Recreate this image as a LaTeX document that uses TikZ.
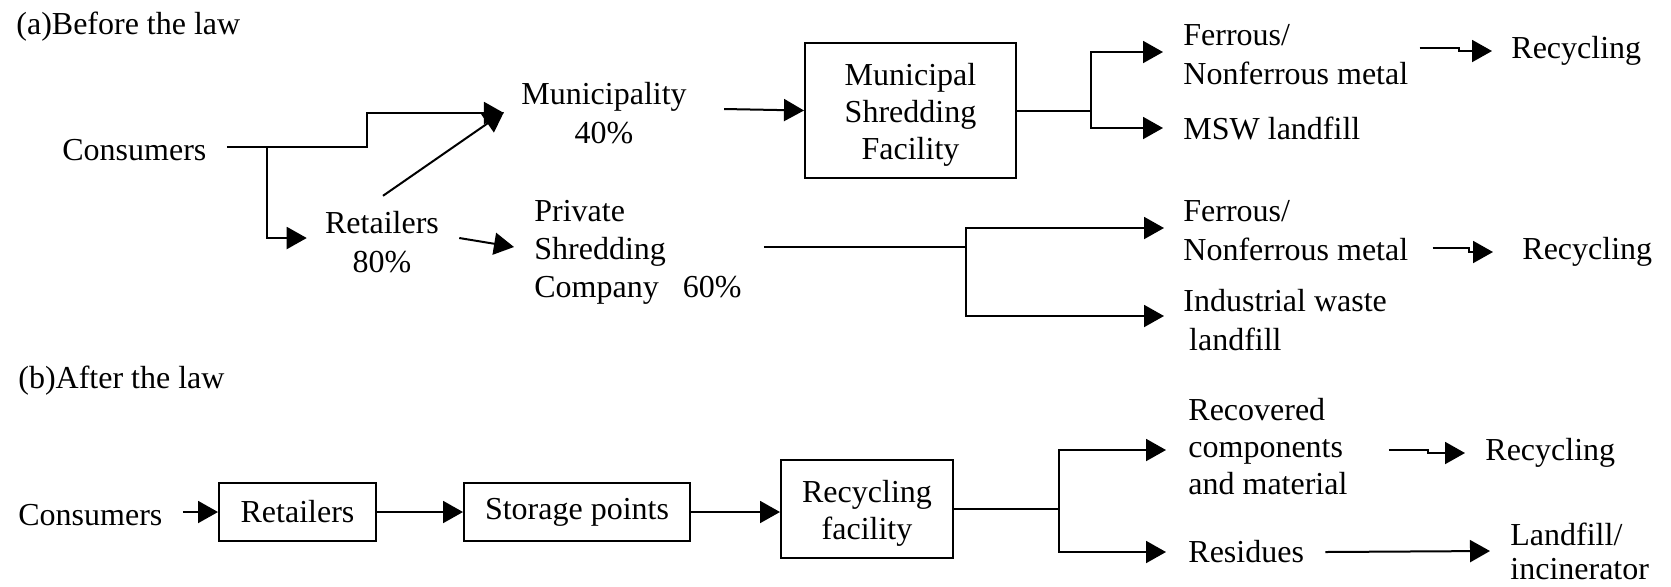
\documentclass[tikz,border=0pt]{standalone}
\usepackage{fontspec}
\setmainfont{Liberation Serif}
\usetikzlibrary{arrows.meta}
\begin{document}
\begin{tikzpicture}[x=0.5pt,y=-0.5pt,
  lbl/.style={inner sep=0pt, font=\fontsize{16}{19.5}\selectfont},
  lblL/.style={lbl, align=left, anchor=west},
  lblC/.style={lbl, align=center},
  box/.style={draw, line width=1pt, inner sep=0pt, align=center, font=\fontsize{16}{18.5}\selectfont},
  ln/.style={line width=1pt},
  arr/.style={line width=1pt, -{Triangle[length=10pt,width=11pt]}}]
\useasboundingbox (0,0) rectangle (1671,586);
% ---------- (a) ----------
\node[lblL] (ta) at (16,27) {(a)Before the law};
\node[lblL] (cons1) at (62,150) {Consumers};
\node[lblC] (muni) at (604,113) {Municipality\\40\%};
\node[lblC] (ret1) at (382,242) {Retailers\\80\%};
\node[box, minimum width=105.5pt, minimum height=67.5pt] (msf) at (910.5,110.5) {\rule{0pt}{15pt}Municipal\\Shredding\\Facility};
\node[lblL, font=\fontsize{16}{19}\selectfont] (priv) at (534,252) {Private\\Shredding\\Company\hspace{0.75em}60\%};
\node[lblL] (fm1) at (1183,55) {Ferrous/\\Nonferrous metal};
\node[lblL] (msw) at (1183,128) {MSW landfill};
\node[lblL] (rec1) at (1511,51) {Recycling};
\node[lblL] (fm2) at (1183,231) {Ferrous/\\Nonferrous metal};
\node[lblL] (iw) at (1183,320) {Industrial waste\\\hspace{0.18em}landfill};
\node[lblL] (rec2) at (1522,252) {Recycling};
\coordinate (j1) at ([shift={(60,-3)}]cons1.east);
\draw[arr] ([shift={(20,-3)}]cons1.east) -- ++(140,0) |- ([shift={(-17,0)}]muni.west);
\draw[arr] (j1) |- ([shift={(-18,-4)}]ret1.west);
\draw[arr] ([shift={(1,-15)}]ret1.north) -- ([shift={(-17,-1)}]muni.west);
\draw[arr] ([shift={(20,-4)}]ret1.east) -- ([shift={(-20,-5)}]priv.west);
\draw[arr] ([shift={(37,-4)}]muni.east) -- (msf.west);
\coordinate (j2) at ([shift={(74,0)}]msf.east);
\draw[ln] (msf.east) -- (j2);
\draw[arr] (j2) |- ([shift={(-20,-3)}]fm1.west);
\draw[arr] (j2) |- ([shift={(-20,0)}]msw.west);
\draw[arr] ([shift={(11,-7)}]fm1.east) -- ++(39,0) |- ([shift={(-19,0)}]rec1.west);
\coordinate (j3) at ([shift={(224,-5)}]priv.east);
\draw[ln] ([shift={(22,-5)}]priv.east) -- (j3);
\draw[arr] (j3) |- ([shift={(-19,-3)}]fm2.west);
\draw[arr] (j3) |- ([shift={(-19,-4)}]iw.west);
\draw[arr] ([shift={(24,17)}]fm2.east) -- ++(36,0) |- ([shift={(-29,0)}]rec2.west);
% ---------- (b) ----------
\node[lblL] (tb) at (18,381) {(b)After the law};
\node[lblL] (cons2) at (18,515) {Consumers};
\node[box, minimum width=78.5pt, minimum height=29pt] (ret2) at (297.5,512) {Retailers};
\node[box, minimum width=113pt, minimum height=29pt] (sto) at (577,512) {Storage points};
\node[box, minimum width=86pt, minimum height=49pt] (rf) at (867,509) {\rule{0pt}{15pt}Recycling\\facility};
\node[lblL, font=\fontsize{16}{18.5}\selectfont] (rc) at (1188,447) {Recovered\\components\\and material};
\node[lblL] (res) at (1188,552) {Residues};
\node[lblL] (rec3) at (1485,453) {Recycling};
\node[lblL, font=\fontsize{16}{17}\selectfont] (lf) at (1510,551) {Landfill/\\incinerator};
\draw[arr] ([shift={(20,0)}]cons2.east |- ret2.west) -- (ret2.west);
\draw[arr] (ret2.east) -- (sto.west);
\draw[arr] (sto.east) -- (sto.east -| rf.west);
\coordinate (j4) at ([shift={(105,0)}]rf.east);
\draw[ln] (rf.east) -- (j4);
\draw[arr] (j4) |- ([shift={(-22,3)}]rc.west);
\draw[arr] (j4) |- ([shift={(-22,0)}]res.west);
\draw[arr] ([shift={(41,3)}]rc.east) -- ++(39,0) |- ([shift={(-20,0)}]rec3.west);
\draw[arr] ([shift={(21,0)}]res.east) -- ([shift={(-20,0)}]lf.west);
\end{tikzpicture}
\end{document}
